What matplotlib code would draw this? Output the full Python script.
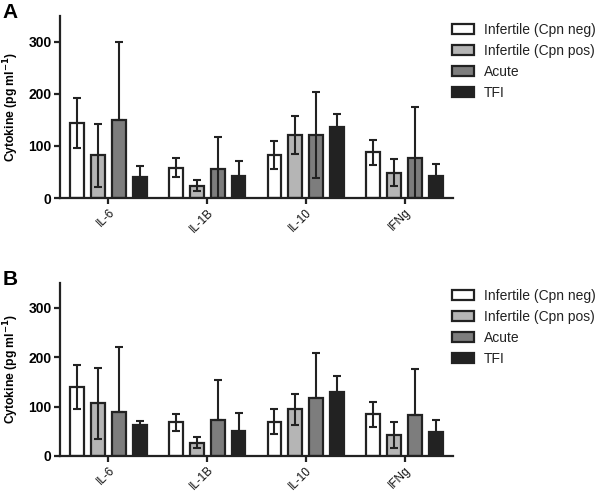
import numpy as np
import matplotlib
matplotlib.use("Agg")
import matplotlib.pyplot as plt

plt.rcParams['font.family'] = ['Liberation Sans', 'DejaVu Sans']

cytokines = ["IL-6", "IL-1B", "IL-10", "IFNg"]
groups = ["Infertile (Cpn neg)", "Infertile (Cpn pos)", "Acute", "TFI"]
colors = ["#ffffff", "#b5b5b5", "#7d7d7d", "#222222"]

# panel A: bar heights, upper and lower error
a_vals = [[145, 58, 82, 88],
          [82, 24, 121, 48],
          [150, 55, 121, 77],
          [41, 43, 137, 43]]
a_up = [[48, 18, 27, 24],
        [61, 11, 37, 26],
        [150, 62, 83, 98],
        [21, 29, 24, 22]]
a_lo = [[48, 18, 27, 24],
        [61, 11, 37, 24],
        [0, 55, 83, 77],
        [21, 29, 24, 22]]

# panel B
b_vals = [[140, 68, 69, 84],
          [107, 27, 94, 43],
          [88, 72, 117, 83],
          [63, 51, 130, 49]]
b_up = [[45, 17, 25, 25],
        [72, 12, 32, 26],
        [133, 81, 91, 94],
        [7, 36, 31, 23]]
b_lo = [[45, 17, 25, 25],
        [72, 12, 32, 26],
        [0, 0, 0, 0],
        [7, 36, 31, 23]]

offsets = [-0.318, -0.106, 0.106, 0.318]
edge = "#222222"

fig = plt.figure(figsize=(6.0, 4.95), dpi=100)
ax_a = fig.add_axes([0.1, 0.6, 0.655, 0.368])
ax_b = fig.add_axes([0.1, 0.079, 0.655, 0.349])


def draw(ax, vals, up, lo, name, leg_y):
    x = np.arange(len(cytokines))
    for i in range(len(groups)):
        ax.bar(x + offsets[i], vals[i], width=0.14, color=colors[i],
               edgecolor=edge, linewidth=1.6, label=groups[i], zorder=2)
        ax.errorbar(x + offsets[i], vals[i], yerr=[lo[i], up[i]], fmt='none',
                    ecolor=edge, elinewidth=1.5, capsize=3,
                    capthick=1.5, zorder=3)
    ax.set_xlim(-0.49, 3.49)
    ax.set_ylim(0, 350)
    ax.set_yticks([0, 100, 200, 300])
    ax.set_xticks(x)
    ax.set_xticklabels(cytokines, rotation=45, ha='right',
                       rotation_mode='anchor', fontsize=8.5, color="#111")
    for lbl in ax.get_yticklabels():
        lbl.set_fontweight('bold')
        lbl.set_fontsize(10)
    ax.spines['top'].set_visible(False)
    ax.spines['right'].set_visible(False)
    for s in ['left', 'bottom']:
        ax.spines[s].set_linewidth(1.6)
        ax.spines[s].set_color(edge)
    ax.tick_params(axis='both', direction='out', length=4, width=1.6,
                   color=edge, pad=2)
    ax.set_ylabel("Cytokine (pg ml$^{\\mathbf{-1}}$)", fontsize=8.7,
                  fontweight='bold', labelpad=5)
    leg = ax.legend(loc='upper left', bbox_to_anchor=(0.984, leg_y),
                    frameon=False, fontsize=10, handlelength=1.6,
                    handleheight=0.7, handletextpad=0.7, labelspacing=0.5,
                    borderaxespad=0)
    for t in leg.get_texts():
        t.set_color("#222")
    fig.text(0.004, ax.get_position().y1 + 0.026, name,
             fontsize=15, fontweight='bold', va='top')


draw(ax_a, a_vals, a_up, a_lo, "A", 0.99)
draw(ax_b, b_vals, b_up, b_lo, "B", 1.0)

fig.savefig("out.png", dpi=100)
